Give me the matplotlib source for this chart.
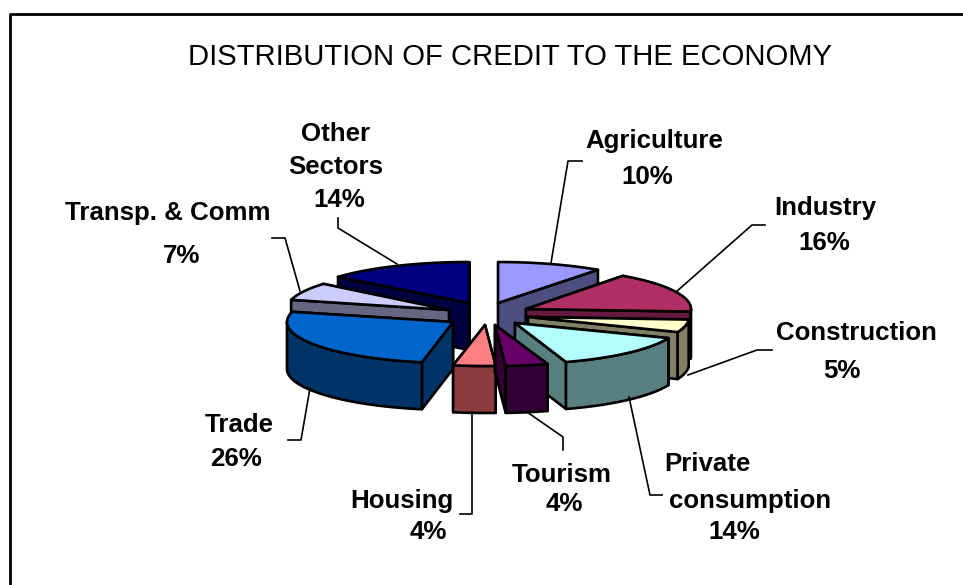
import numpy as np
import matplotlib
matplotlib.use("Agg")
import matplotlib.pyplot as plt

plt.rcParams['font.family'] = ['Liberation Sans', 'DejaVu Sans']

# -----------------------------
# DATA
# -----------------------------
sectors = ["Agriculture", "Industry", "Construction", "Private consumption",
           "Tourism", "Housing", "Trade", "Transp. & Comm", "Other Sectors"]
shares = [10, 16, 5, 14, 4, 4, 26, 7, 14]

top_colors = ["#9999FF", "#B03066", "#FFFFCC", "#B3FFFF", "#660066",
              "#FF8080", "#0066CC", "#CCCCFF", "#000080"]
side_colors = ["#4D4D80", "#661A40", "#808066", "#598080", "#330033",
               "#8B3C3C", "#003366", "#666680", "#000040"]

# back to front
draw_order = [8, 0, 7, 1, 2, 3, 6, 5, 4]

# exploded slice tips and sizes, pixels
tip_x = [498, 526, 528, 515, 495, 485, 453, 449, 469]
tip_y = [303, 309, 317, 323, 325, 325, 322, 310, 303]
radius_x = [170, 165, 161, 165, 170, 170, 166, 163, 170]
ry = 41
depth = 47

fig = plt.figure(figsize=(9.63, 5.85), dpi=100)
ax = fig.add_axes([0, 0, 1, 1])
ax.set_xlim(0, 963)
ax.set_ylim(585, 0)
ax.axis('off')

# frame, only left and top show up
ax.plot([10, 10, 963], [585, 14, 14], color='black', lw=2, solid_capstyle='butt')

ax.text(510.5, 57, "DISTRIBUTION OF CREDIT TO THE ECONOMY", fontsize=21.1,
        ha='center', va='center')

# ---- pie slices ----
edges = np.radians(np.concatenate([[0], np.cumsum(shares)]) * 3.6)

for i in draw_order:
    t1, t2 = edges[i], edges[i + 1]
    x0, y0, rx = tip_x[i], tip_y[i], radius_x[i]


    def rim(t):
        return x0 + rx * np.sin(t), y0 - ry * np.cos(t)


    # straight walls, the further one first
    walls = sorted([t1, t2], key=lambda t: rim(t)[1])
    for t in walls:
        xe, ye = rim(t)
        ax.fill([x0, xe, xe, x0], [y0, ye, ye + depth, y0 + depth],
                facecolor=side_colors[i], edgecolor='black', lw=1.9, joinstyle='round')

    # outer wall, front part only
    a1, a2 = max(t1, np.pi / 2), min(t2, 3 * np.pi / 2)
    if a2 > a1:
        t = np.linspace(a1, a2, 50)
        xs, ys = rim(t)
        ax.fill(np.r_[xs, xs[::-1]], np.r_[ys, ys[::-1] + depth],
                facecolor=side_colors[i], edgecolor='black', lw=1.9, joinstyle='round')

    # top face
    t = np.linspace(t1, t2, 60)
    xs, ys = rim(t)
    ax.fill(np.r_[x0, xs], np.r_[y0, ys], facecolor=top_colors[i],
            edgecolor='black', lw=1.9, joinstyle='round')

# ---- leader lines ----
leaders = [
    ([551, 568, 582], [263, 161, 161]),
    ([676, 752, 765], [292, 225, 225]),
    ([688, 757, 772], [375, 350, 350]),
    ([629, 650, 662], [397, 495, 495]),
    ([527, 563, 563], [412, 437, 450]),
    ([472, 472, 460], [412, 514, 514]),
    ([310, 301, 288], [388, 440, 440]),
    ([300, 285, 272], [291, 238, 238]),
    ([397, 338, 338], [264, 228, 218]),
]
for lx, ly in leaders:
    ax.plot(lx, ly, color='black', lw=1.2)

# ---- labels ----
# (text lines of the name, with x and y of each line)
name_lines = [
    [("Agriculture", 654.5, 141)],
    [("Industry", 825, 208)],
    [("Construction", 856, 333)],
    [("Private", 707, 464), ("consumption", 750, 501)],
    [("Tourism", 562, 475)],
    [("Housing", 402, 501)],
    [("Trade", 239, 425)],
    [("Transp. & Comm", 168, 213)],
    [("Other", 336, 134), ("Sectors", 336, 167)],
]
pct_pos = [(647, 177), (824, 243), (842, 371), (734, 532), (564, 504),
           (428, 532), (236, 459), (182, 256), (339, 200)]

for i in range(len(sectors)):
    for txt, x, y in name_lines[i]:
        ax.text(x, y, txt, fontsize=18.6, fontweight='bold', ha='center', va='center')
    ax.text(pct_pos[i][0], pct_pos[i][1], str(shares[i]) + "%", fontsize=18.6,
            fontweight='bold', ha='center', va='center')

plt.savefig("out.png", dpi=100)
